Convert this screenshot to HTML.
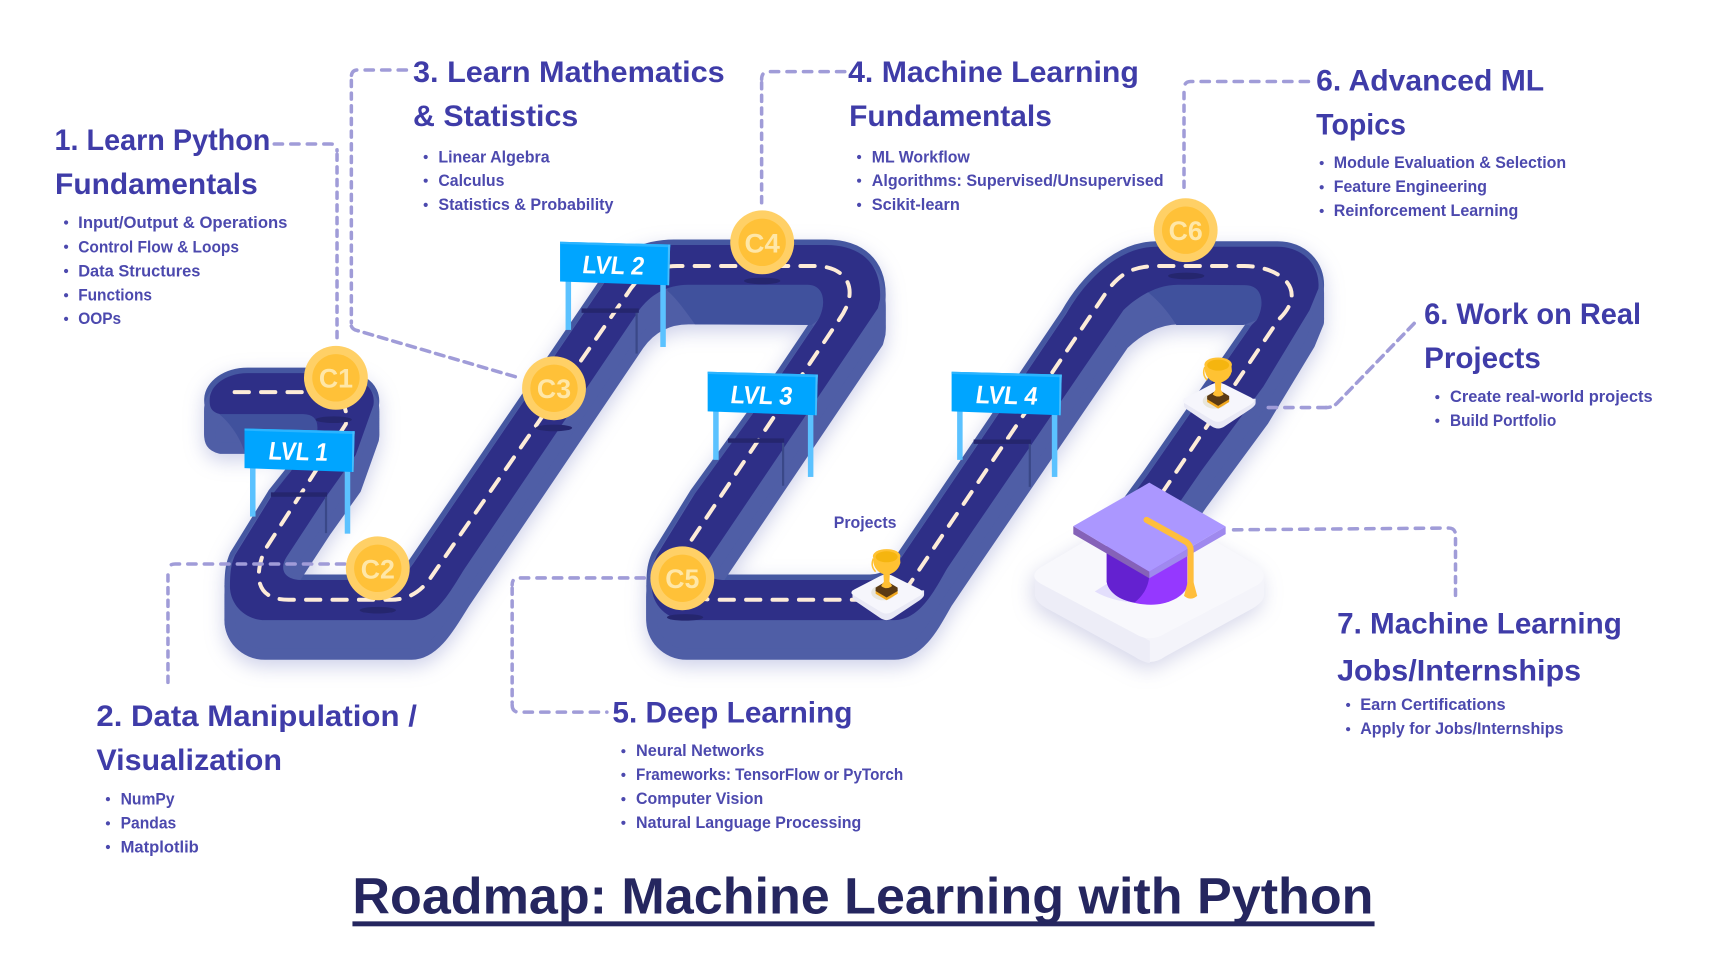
<!DOCTYPE html>
<html>
<head>
<meta charset="utf-8">
<style>
html,body{margin:0;padding:0;background:#fff;width:1727px;height:966px;overflow:hidden}
svg{display:block}
text{font-family:"Liberation Sans",sans-serif;font-weight:bold}
.h{font-size:27px;fill:#3f3ca8}
.l{font-size:15px;fill:#4c49ae}
.c{font-size:24px;fill:#ffe7a8}
.s{font-size:23px;fill:#fff}
.cnh,.cnv,.cnd{fill:none;stroke:#a09cd8;stroke-width:3.2;stroke-linecap:round;stroke-linejoin:round}
.cnh{stroke-dasharray:7.5 7.5}
.cnv{stroke-dasharray:5.5 6}
.cnd{stroke-dasharray:8 5.5}
.d{fill:none;stroke:#fdecd8;stroke-width:3.6;stroke-linecap:round;stroke-dasharray:13 11}
</style>
</head>
<body>
<svg width="1727" height="966" viewBox="0 0 1568 877" xmlns="http://www.w3.org/2000/svg">
<defs>
<path id="rd" d="M225,338.7 L290,338.7 C325,338.7 342,350 339,368 L323,413 L296,451 L260.3,505.5 C254,515 256,526.6 275,526.6 L352,526.6 Q365,526.6 375,512 L552,252 C562,234 585,222.4 612,222.4 L750,222.4 C780,222.4 801,238 799,272 L797,280 L645,505.5 C637,515 639,526.6 658,526.6 L790,526.6 Q800,526.6 809,520 L968,285 C985,255 1015,224 1050,224 L1160,224 C1182,224 1199,240 1197,262 L1189,281.5 L1147,351 L1091,427 L1060,472 L1012,472 L1042,431 L1136.4,295 L1141,290.6 C1148,278 1148,258.8 1130,258.8 L1071,258.5 C1050,258 1032,270 1020,281.5 L980.6,339 L883.7,481 L860,516 C850,533 836,563 812,563 L623.6,563 C605,563 591,548 591.8,531 C592,518 593,512 596.4,504 L631,448 L710,339 L742.7,290.5 C750,278 750,258.5 733,258.5 L625,258.5 C605,258.5 590,268 580,282 L422,516 C411,533 396,563 373.8,563 L240.6,563 C222,563 208,548 208.8,531 C209,518 210,512 213.4,504 L248,448 L264,428 L288,392 Q290,376 275,376 L200,376 C192,374 190,370 190.4,362 C191,350 205,338.7 225,338.7Z"/>
<g id="sign">
<rect x="5" y="30" width="5" height="50" fill="#5bc2ff"/>
<rect x="91" y="30" width="5" height="65.5" fill="#5bc2ff"/>
<polygon points="0,0 100,2.5 99,39.5 0,36" fill="#00a5ff"/>
<polygon points="0,0 100,2.5 100,5 0,2" fill="#2bb4ff"/>
<polygon points="98,2.5 100,2.5 99,39.5 97.5,39.5" fill="#49bdfc"/>
</g>
<g id="trophy">
<path d="M1075,362 L1075,368 Q1075,370 1078,372 L1100,387 Q1106,391 1112,387 L1136,371 Q1140,368 1140,366 L1140,362Z" fill="#e9e9f5"/>
<path d="M1077,361 L1100,349 Q1106,346 1112,349 L1136,361 Q1141,364 1136,367 L1112,381 Q1106,385 1100,381 L1077,367 Q1071,364 1077,361Z" fill="#f6f6fc"/>
<ellipse cx="1103" cy="364" rx="11" ry="7" fill="#e8e6dc"/>
<polygon points="1096,362 1106,356 1116,362 1116,365 1106,371 1096,365" fill="#f0a820"/>
<polygon points="1096,359.5 1106,353.5 1116,359.5 1116,362.5 1106,368.5 1096,362.5" fill="#5a3a14"/>
<path d="M1103,345 L1109,345 L1108.5,354 L1111,358 Q1106,362 1101,358 L1103.5,354Z" fill="#ffbf33"/>
<path d="M1094,331 L1118,331 L1118.5,337 Q1116,346 1106,348 Q1096,346 1094,337Z" fill="#ffc233"/>
<path d="M1094,333 Q1091,340 1096,345" fill="none" stroke="#ffc233" stroke-width="1.4"/>
<ellipse cx="1106" cy="331" rx="12.5" ry="6.5" fill="#ffc233"/>
<ellipse cx="1106" cy="331.5" rx="10" ry="5" fill="#f5b50f"/>
</g>
</defs>

<!-- road body -->
<g style="filter:drop-shadow(0 6px 9px rgba(75,85,175,.28))">
<use href="#rd" fill="#4557a1" stroke="#4557a1" stroke-width="10" stroke-linejoin="round"/>
<g fill="#4f5ea6">
<use href="#rd" y="2"/><use href="#rd" y="4"/><use href="#rd" y="6"/>
</g>
<g fill="#4f5ea6" stroke="#4f5ea6" stroke-width="10" stroke-linejoin="round">
<use href="#rd" y="8"/><use href="#rd" y="10"/><use href="#rd" y="12"/><use href="#rd" y="14"/><use href="#rd" y="16"/><use href="#rd" y="18"/><use href="#rd" y="20"/><use href="#rd" y="22"/><use href="#rd" y="24"/><use href="#rd" y="26"/><use href="#rd" y="28"/><use href="#rd" y="30"/><use href="#rd" y="31"/>
</g>
</g>
<!-- darker inner faces -->
<path d="M199,376 L281,376 Q290,378 290,392 L290,410 L222,410 C218,398 210,385 199,376Z" fill="#40519d"/>
<path d="M606,262 C612,257 620,257 630,257 L733,257 C750,258 750,278 742.7,290.5 L737,295 L631,294.5 C622,282 615,272 606,264Z" fill="#40519d"/>
<path d="M1039.6,263 C1045,257 1060,257 1071,257 L1130,257 C1148,258 1148,278 1141,290.6 L1129,295 L1068,295 C1060,282 1050,271 1039.6,263Z" fill="#40519d"/>
<!-- road top -->
<use href="#rd" fill="#2e2f87"/>
<!-- dashes -->
<path class="d" d="M213,356 L285,356 Q318,356 314,385 L240,500 C232,520 230,544.5 262,544.5 L355,544.5 Q378,544.5 392,523 L570,266 Q585,241.5 615,241.5 L740,241.5 C768,241.5 782,262 762,290 L628,490 C612,515 608,544.5 650,544.5 L790,544.5 Q812,544.5 826,530 L1004,266 C1020,243 1035,241.5 1055,241.5 L1130,241.5 C1160,241.5 1190,262 1161,290 L1040,470"/>

<!-- sign shadows & seams -->
<g fill="#25266e">
<rect x="246" y="447" width="51" height="4"/>
<rect x="528" y="280" width="52" height="4"/>
<rect x="661" y="398" width="51" height="4"/>
<rect x="884" y="399" width="52" height="4"/>
</g>
<g stroke="#3a4888" stroke-width="2">
<line x1="296" y1="451" x2="296" y2="484"/>
<line x1="578" y1="284" x2="578" y2="321"/>
<line x1="711" y1="402" x2="711" y2="441"/>
<line x1="935" y1="403" x2="935" y2="442"/>
</g>

<!-- signs -->
<use href="#sign" x="222" y="389"/>
<use href="#sign" x="508.5" y="219.5"/>
<use href="#sign" x="642.5" y="337.5"/>
<use href="#sign" x="864" y="337.5"/>
<text class="s" transform="translate(243,417) rotate(1.4) skewX(-7)" textLength="54" lengthAdjust="spacingAndGlyphs">LVL 1</text>
<text class="s" transform="translate(528,248) rotate(1.4) skewX(-7)" textLength="56" lengthAdjust="spacingAndGlyphs">LVL 2</text>
<text class="s" transform="translate(662.5,366) rotate(1.4) skewX(-7)" textLength="56" lengthAdjust="spacingAndGlyphs">LVL 3</text>
<text class="s" transform="translate(885,366) rotate(1.4) skewX(-7)" textLength="56" lengthAdjust="spacingAndGlyphs">LVL 4</text>

<!-- connectors -->
<path class="cnh" d="M249,130.7 L300,130.7 Q306,130.7 306,137"/><path class="cnv" d="M306,140 L306,312"/>
<path class="cnh" d="M369,63.5 L325,63.5 Q319,63.5 319,70"/><path class="cnv" d="M319,73 L319,293"/><path class="cnd" d="M319,296 Q320,299 324,300 L473,343.5"/>
<path class="cnh" d="M767,65 L698,65 Q691.5,65 691.5,72"/><path class="cnv" d="M691.5,75 L691.5,189"/>
<path class="cnh" d="M1188,74 L1081,74 Q1075,74 1075,81"/><path class="cnv" d="M1075,84 L1075,174"/>
<path class="cnd" d="M1284,293.6 L1214,366 Q1210,370 1204,370"/><path class="cnh" d="M1204,370 L1146,370"/>
<path class="cnh" d="M313,512 L159,512 Q152.5,512 152.5,519"/><path class="cnv" d="M152.5,522 L152.5,624"/>
<path class="cnh" d="M585,524.7 L471,524.7 Q465,524.7 465,531"/><path class="cnv" d="M465,534 L465,638"/><path class="cnh" d="M465,640 Q465,646.5 471,646.5 L551,646.5"/>
<path class="cnh" d="M1120,481 L1315,479.4 Q1321.5,479.4 1321.5,486"/><path class="cnv" d="M1321.5,489 L1321.5,546"/>

<!-- coins -->
<g fill="#25266e">
<ellipse cx="303" cy="381" rx="16.5" ry="3"/>
<ellipse cx="343" cy="554" rx="16.5" ry="3"/>
<ellipse cx="503" cy="388.5" rx="16.5" ry="3"/>
<ellipse cx="692" cy="255" rx="16.5" ry="3"/>
<ellipse cx="622" cy="560.5" rx="16.5" ry="3"/>
<ellipse cx="1077" cy="250.5" rx="16.5" ry="3"/>
</g>
<g fill="#ffd066">
<circle cx="305" cy="343" r="29"/><circle cx="343" cy="516" r="29"/><circle cx="503" cy="352.5" r="29"/><circle cx="692" cy="220" r="29"/><circle cx="619.5" cy="525" r="29"/><circle cx="1076.5" cy="209" r="29"/>
</g>
<g fill="#ffc138">
<circle cx="305" cy="343" r="21.5"/><circle cx="343" cy="516" r="21.5"/><circle cx="503" cy="352.5" r="21.5"/><circle cx="692" cy="220" r="21.5"/><circle cx="619.5" cy="525" r="21.5"/><circle cx="1076.5" cy="209" r="21.5"/>
</g>
<text class="c" x="289.5" y="352" textLength="31" lengthAdjust="spacingAndGlyphs">C1</text>
<text class="c" x="327.5" y="525" textLength="31" lengthAdjust="spacingAndGlyphs">C2</text>
<text class="c" x="487.5" y="361.5" textLength="31" lengthAdjust="spacingAndGlyphs">C3</text>
<text class="c" x="676" y="229" textLength="32" lengthAdjust="spacingAndGlyphs">C4</text>
<text class="c" x="604" y="534" textLength="31" lengthAdjust="spacingAndGlyphs">C5</text>
<text class="c" x="1061" y="218" textLength="31" lengthAdjust="spacingAndGlyphs">C6</text>

<!-- trophies -->
<use href="#trophy"/>
<use href="#trophy" x="-301" y="174"/>

<!-- graduation platform -->
<g style="filter:drop-shadow(-2px 6px 9px rgba(90,95,170,.25))">
<path d="M939.7,522 L939.7,540 Q941,547 950,552 L1030,596 Q1044,606 1058,596 L1138,552 Q1147.7,546 1147.7,540 L1147.7,524Z" fill="#f4f4fa"/>
<path d="M939.7,522 L939.7,540 Q941,547 950,552 L1030,596 Q1037,601 1044,602 L1044,582Z" fill="#ededf7"/>
<path d="M945,515 L1030,465 Q1044,457 1058,465 L1142,514 Q1153,523 1142,531 L1058,575 Q1044,584 1030,575 L945,530 Q933,523 945,515Z" fill="#f8f8fc"/>
</g>
<path d="M994,537 L1005,530 L1030,547 Q1010,546 994,537Z" fill="#e3defc"/>
<!-- cap -->
<path d="M1004.8,495 L1004.8,528 C1006,540 1025,549 1045,549 C1060,549 1075,542 1078,532 L1078,495Z" fill="#9538ff"/>
<path d="M1004.8,495 L1004.8,528 C1006,537 1016,545 1030,547 C1037,542 1043,533 1043.5,522Z" fill="#6421d0"/>
<polygon points="974.5,477.6 1043.5,519 1043.5,525 974.5,484.9" fill="#8562b8"/>
<polygon points="1112.8,478 1043.5,519 1043.5,525 1112.8,484.9" fill="#9f89ee"/>
<polygon points="1043.5,438.2 1112.8,478 1043.5,519 974.5,477.6" fill="#ab97ff"/>
<path d="M1041,472 L1077,492 Q1081,495 1081,499 L1081,532" fill="none" stroke="#ffbe3c" stroke-width="5.5" stroke-linecap="round" stroke-linejoin="round"/>
<path d="M1078.5,528 L1083.5,528 L1087,541 Q1081,546 1075,541Z" fill="#ffbe3c"/>

<!-- headings -->
<text class="h" x="49.5" y="136" textLength="196" lengthAdjust="spacingAndGlyphs">1. Learn Python</text>
<text class="h" x="50" y="176" textLength="184" lengthAdjust="spacingAndGlyphs">Fundamentals</text>
<text class="h" x="375" y="74.5" textLength="283" lengthAdjust="spacingAndGlyphs">3. Learn Mathematics</text>
<text class="h" x="375" y="114.5" textLength="150" lengthAdjust="spacingAndGlyphs">&amp; Statistics</text>
<text class="h" x="770" y="74.5" textLength="264" lengthAdjust="spacingAndGlyphs">4. Machine Learning</text>
<text class="h" x="771" y="114.5" textLength="184" lengthAdjust="spacingAndGlyphs">Fundamentals</text>
<text class="h" x="1195" y="82" textLength="207" lengthAdjust="spacingAndGlyphs">6. Advanced ML</text>
<text class="h" x="1195" y="122" textLength="81.5" lengthAdjust="spacingAndGlyphs">Topics</text>
<text class="h" x="1293" y="294" textLength="197" lengthAdjust="spacingAndGlyphs">6. Work on Real</text>
<text class="h" x="1293" y="334" textLength="106" lengthAdjust="spacingAndGlyphs">Projects</text>
<text class="h" x="87.5" y="659" textLength="291" lengthAdjust="spacingAndGlyphs">2. Data Manipulation /</text>
<text class="h" x="87.5" y="699" textLength="168.5" lengthAdjust="spacingAndGlyphs">Visualization</text>
<text class="h" x="556" y="656" textLength="218" lengthAdjust="spacingAndGlyphs">5. Deep Learning</text>
<text class="h" x="1214" y="575" textLength="258.5" lengthAdjust="spacingAndGlyphs">7. Machine Learning</text>
<text class="h" x="1214" y="618" textLength="221.5" lengthAdjust="spacingAndGlyphs">Jobs/Internships</text>

<!-- lists -->
<text class="l" x="71" y="207" textLength="190" lengthAdjust="spacingAndGlyphs">Input/Output &amp; Operations</text>
<text class="l" x="71" y="229" textLength="146" lengthAdjust="spacingAndGlyphs">Control Flow &amp; Loops</text>
<text class="l" x="71" y="250.8" textLength="111" lengthAdjust="spacingAndGlyphs">Data Structures</text>
<text class="l" x="71" y="272.6" textLength="67" lengthAdjust="spacingAndGlyphs">Functions</text>
<text class="l" x="71" y="294.3" textLength="39" lengthAdjust="spacingAndGlyphs">OOPs</text>
<text class="l" x="398" y="147.3" textLength="101" lengthAdjust="spacingAndGlyphs">Linear Algebra</text>
<text class="l" x="398" y="169" textLength="60" lengthAdjust="spacingAndGlyphs">Calculus</text>
<text class="l" x="398" y="190.8" textLength="159" lengthAdjust="spacingAndGlyphs">Statistics &amp; Probability</text>
<text class="l" x="791.5" y="147.3" textLength="89" lengthAdjust="spacingAndGlyphs">ML Workflow</text>
<text class="l" x="791.5" y="169" textLength="265" lengthAdjust="spacingAndGlyphs">Algorithms: Supervised/Unsupervised</text>
<text class="l" x="791.5" y="190.8" textLength="80" lengthAdjust="spacingAndGlyphs">Scikit-learn</text>
<text class="l" x="1211" y="152.6" textLength="211" lengthAdjust="spacingAndGlyphs">Module Evaluation &amp; Selection</text>
<text class="l" x="1211" y="174.4" textLength="139" lengthAdjust="spacingAndGlyphs">Feature Engineering</text>
<text class="l" x="1211" y="196.2" textLength="167.5" lengthAdjust="spacingAndGlyphs">Reinforcement Learning</text>
<text class="l" x="1316.5" y="365.1" textLength="184" lengthAdjust="spacingAndGlyphs">Create real-world projects</text>
<text class="l" x="1316.5" y="386.9" textLength="96.5" lengthAdjust="spacingAndGlyphs">Build Portfolio</text>
<text class="l" x="109.5" y="730.4" textLength="49" lengthAdjust="spacingAndGlyphs">NumPy</text>
<text class="l" x="109.5" y="752.2" textLength="50.5" lengthAdjust="spacingAndGlyphs">Pandas</text>
<text class="l" x="109.5" y="774" textLength="71" lengthAdjust="spacingAndGlyphs">Matplotlib</text>
<text class="l" x="577.5" y="686.5" textLength="116.5" lengthAdjust="spacingAndGlyphs">Neural Networks</text>
<text class="l" x="577.5" y="708.3" textLength="242.5" lengthAdjust="spacingAndGlyphs">Frameworks: TensorFlow or PyTorch</text>
<text class="l" x="577.5" y="730.1" textLength="115.5" lengthAdjust="spacingAndGlyphs">Computer Vision</text>
<text class="l" x="577.5" y="751.8" textLength="204.5" lengthAdjust="spacingAndGlyphs">Natural Language Processing</text>
<text class="l" x="1235" y="644.8" textLength="132" lengthAdjust="spacingAndGlyphs">Earn Certifications</text>
<text class="l" x="1235" y="666.6" textLength="184.5" lengthAdjust="spacingAndGlyphs">Apply for Jobs/Internships</text>
<text class="l" x="757" y="479.4" textLength="57" lengthAdjust="spacingAndGlyphs">Projects</text>

<!-- bullets -->
<g fill="#4c49ae">
<circle cx="60" cy="202" r="1.9"/><circle cx="60" cy="224" r="1.9"/><circle cx="60" cy="246" r="1.9"/><circle cx="60" cy="268" r="1.9"/><circle cx="60" cy="289.5" r="1.9"/>
<circle cx="386.5" cy="142.5" r="1.9"/><circle cx="386.5" cy="164" r="1.9"/><circle cx="386.5" cy="186" r="1.9"/>
<circle cx="780" cy="142.5" r="1.9"/><circle cx="780" cy="164" r="1.9"/><circle cx="780" cy="186" r="1.9"/>
<circle cx="1200" cy="148" r="1.9"/><circle cx="1200" cy="170" r="1.9"/><circle cx="1200" cy="191.5" r="1.9"/>
<circle cx="1305" cy="360.5" r="1.9"/><circle cx="1305" cy="382" r="1.9"/>
<circle cx="98" cy="725.5" r="1.9"/><circle cx="98" cy="747.5" r="1.9"/><circle cx="98" cy="769" r="1.9"/>
<circle cx="566" cy="682" r="1.9"/><circle cx="566" cy="703.5" r="1.9"/><circle cx="566" cy="725.5" r="1.9"/><circle cx="566" cy="747" r="1.9"/>
<circle cx="1224" cy="640" r="1.9"/><circle cx="1224" cy="662" r="1.9"/>
</g>

<!-- title -->
<text x="320" y="829.5" font-size="46" fill="#25265f" textLength="927" lengthAdjust="spacingAndGlyphs">Roadmap: Machine Learning with Python</text>
<rect x="320" y="836.5" width="928" height="4.5" fill="#25265f"/>
</svg>
</body>
</html>
